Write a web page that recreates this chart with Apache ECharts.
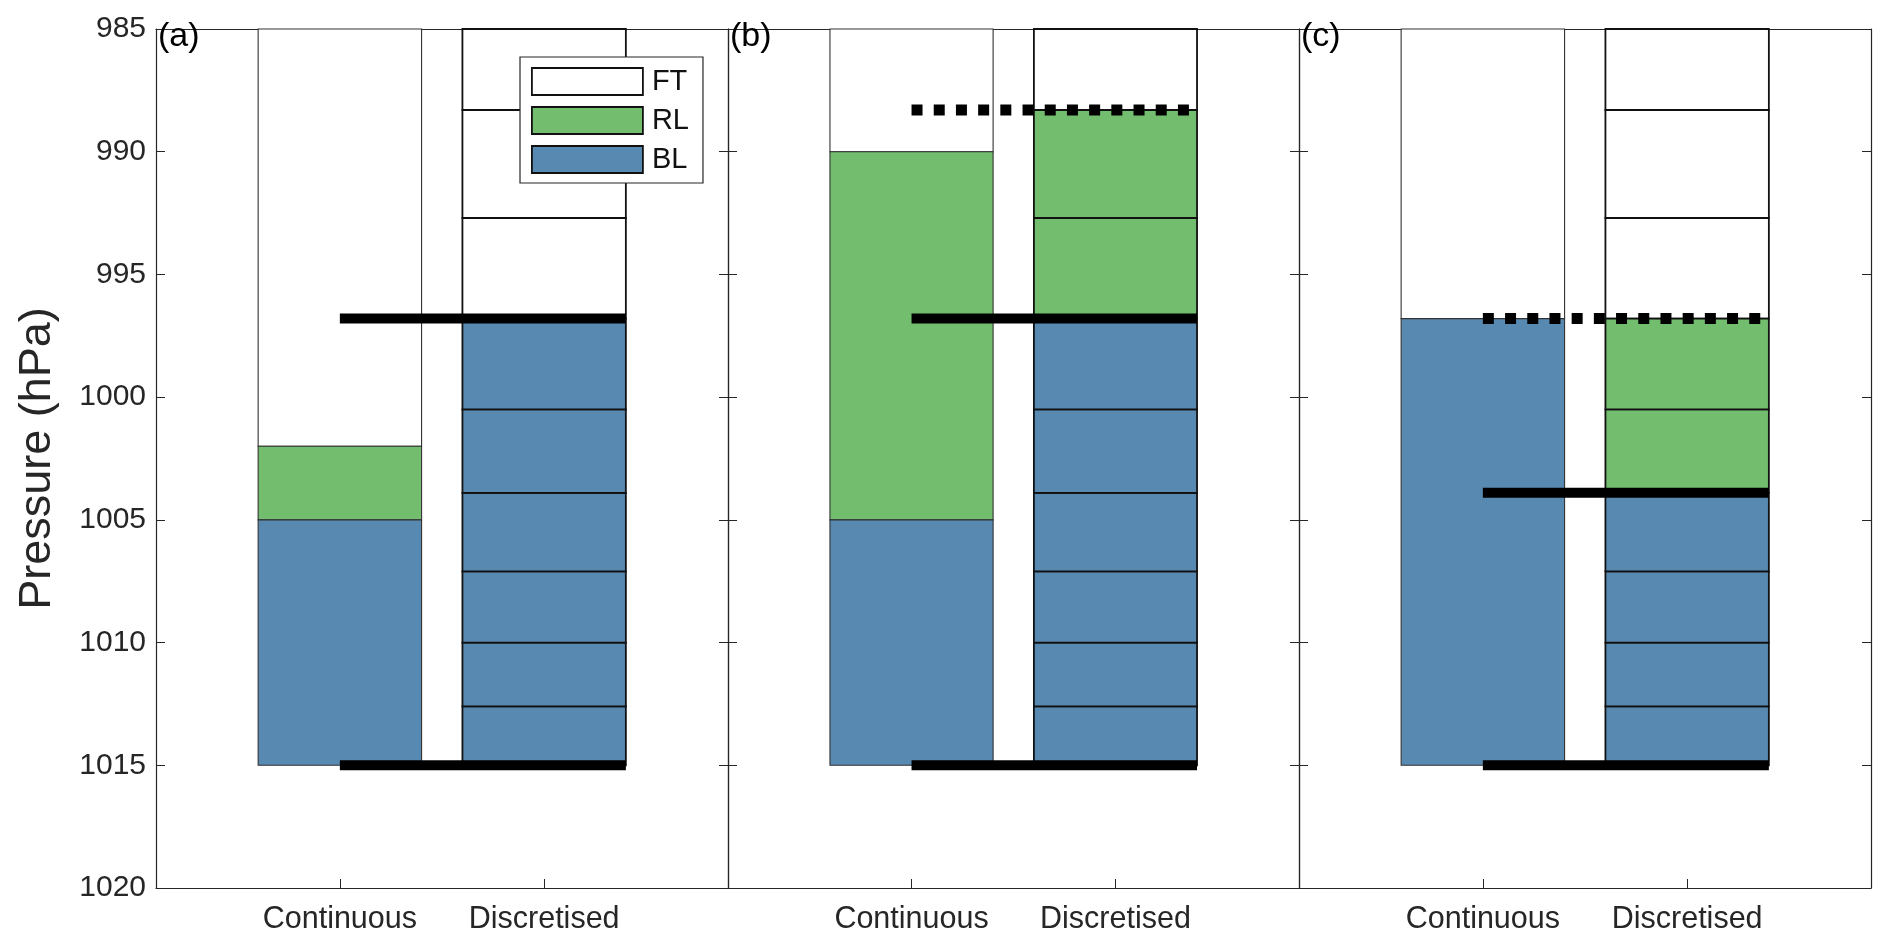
<!DOCTYPE html>
<html><head><meta charset="utf-8">
<script src="https://cdn.jsdelivr.net/npm/echarts@6/dist/echarts.min.js"></script>
<style>html,body{margin:0;padding:0;background:#fff}#c{width:1892px;height:948px}</style>
</head><body><div id="c"></div>
<script>
// ---------------- data ----------------
const categories = ['Continuous', 'Discretised'];
const categoryX = [1, 2];
const panelLabels = ['(a)', '(b)', '(c)'];
const yTicks = [985, 990, 995, 1000, 1005, 1010, 1015, 1020];
const layerNames = ['FT', 'RL', 'BL'];
// continuous bar layers per panel: [bottom pressure, top pressure]
const contBL = [[1015, 1005], [1015, 1005], [1015, 996.8]];
const contRL = [[1005, 1002], [1005, 990], null];
const contFT = [[1002, 985], [990, 985], [996.8, 985]];
// discretised model levels (hPa)
const discLevels = [1015, 1012.6, 1010, 1007.1, 1003.9, 1000.5, 996.8, 992.7, 988.3, 985];
const discBLTop = [996.8, 996.8, 1003.9];
const discRLTop = [996.8, 988.3, 996.8];
// thick reference lines per panel
const solidLevels = [[1015, 996.8], [1015, 996.8], [1015, 1003.9]];
const dottedLevels = [[], [988.3], [996.8]];

// ---------------- style ----------------
const FONT = "'Liberation Sans', Arial, Helvetica, sans-serif";
const AX = '#262626';
const layerColors = { FT: '#ffffff', RL: '#73BD6E', BL: '#5889B1' };
const BAR_W = 0.8;
const XMIN = 0.1, XMAX = 2.9, YMIN = yTicks[0], YMAX = yTicks[yTicks.length - 1];
const grids = [
  { left: 156, top: 29, width: 572, height: 859 },
  { left: 728, top: 29, width: 571, height: 859 },
  { left: 1299, top: 29, width: 572, height: 859 }
];

function renderRect(params, api) {
  const a = api.coord([api.value(0), api.value(2)]);
  const b = api.coord([api.value(1), api.value(3)]);
  const disc = api.value(4) === 1;
  return {
    type: 'rect',
    shape: { x: Math.min(a[0], b[0]), y: Math.min(a[1], b[1]),
             width: Math.abs(b[0] - a[0]), height: Math.abs(b[1] - a[1]) },
    style: { fill: api.visual('color'), stroke: disc ? '#111' : '#333', lineWidth: disc ? 1.8 : 1.1 }
  };
}

const xAxis = [], yAxis = [], series = [], graphic = [];
grids.forEach((g, i) => {
  const tickCommon = { show: true, inside: true, length: 9, lineStyle: { color: AX, width: 1 } };
  xAxis.push({
    gridIndex: i, type: 'value', min: XMIN, max: XMAX, position: 'bottom',
    axisLine: { show: true, onZero: false, lineStyle: { color: AX, width: 1.2 } },
    axisTick: Object.assign({ customValues: categoryX }, tickCommon),
    axisLabel: { show: true, customValues: categoryX, margin: 16, fontSize: 30.5, color: AX, fontFamily: FONT,
      formatter: v => categories[categoryX.indexOf(Math.round(v))] || '' },
    splitLine: { show: false }
  });
  xAxis.push({
    gridIndex: i, type: 'value', min: XMIN, max: XMAX, position: 'top',
    axisLine: { show: true, onZero: false, lineStyle: { color: AX, width: 1.2 } },
    axisTick: Object.assign({ customValues: categoryX }, tickCommon),
    axisLabel: { show: false }, splitLine: { show: false }
  });
  yAxis.push({
    gridIndex: i, type: 'value', inverse: true, min: YMIN, max: YMAX, interval: 5, position: 'left',
    axisLine: { show: true, onZero: false, lineStyle: { color: AX, width: 1.2 } },
    axisTick: tickCommon,
    axisLabel: { show: i === 0, margin: 10, fontSize: 30, color: AX, fontFamily: FONT, formatter: v => String(v) },
    splitLine: { show: false },
    name: i === 0 ? 'Pressure (hPa)' : '', nameLocation: 'middle', nameRotate: 90, nameGap: 96,
    nameTextStyle: { fontSize: 45, color: AX, fontFamily: FONT }
  });
  yAxis.push({
    gridIndex: i, type: 'value', inverse: true, min: YMIN, max: YMAX, interval: 5, position: 'right',
    axisLine: { show: true, onZero: false, lineStyle: { color: AX, width: 1.2 } },
    axisTick: tickCommon, axisLabel: { show: false }, splitLine: { show: false }
  });

  // build rect data for this panel
  const rects = { FT: [], RL: [], BL: [] };
  const cx = categoryX[0], dx = categoryX[1];
  if (contBL[i]) rects.BL.push([cx - BAR_W / 2, cx + BAR_W / 2, contBL[i][0], contBL[i][1], 0]);
  if (contRL[i]) rects.RL.push([cx - BAR_W / 2, cx + BAR_W / 2, contRL[i][0], contRL[i][1], 0]);
  if (contFT[i]) rects.FT.push([cx - BAR_W / 2, cx + BAR_W / 2, contFT[i][0], contFT[i][1], 0]);
  for (let k = 0; k < discLevels.length - 1; k++) {
    const lo = discLevels[k], hi = discLevels[k + 1];
    let layer = 'FT';
    if (hi >= discBLTop[i] - 1e-6) layer = 'BL';
    else if (hi >= discRLTop[i] - 1e-6) layer = 'RL';
    rects[layer].push([dx - BAR_W / 2, dx + BAR_W / 2, lo, hi, 1]);
  }
  layerNames.forEach(name => {
    series.push({
      type: 'custom', name: name, xAxisIndex: 2 * i, yAxisIndex: 2 * i,
      renderItem: renderRect, data: rects[name], z: 2, silent: true,
      itemStyle: { color: layerColors[name], borderColor: '#000', borderWidth: 1.5 },
      encode: { x: [0, 1], y: [2, 3] }
    });
  });
  const x0 = categoryX[0], x1 = categoryX[1] + BAR_W / 2;
  solidLevels[i].forEach(p => series.push({
    type: 'line', xAxisIndex: 2 * i, yAxisIndex: 2 * i, data: [[x0, p], [x1, p]],
    symbol: 'none', silent: true, z: 5, lineStyle: { color: '#000', width: 10, cap: 'butt' }
  }));
  dottedLevels[i].forEach(p => series.push({
    type: 'line', xAxisIndex: 2 * i, yAxisIndex: 2 * i, data: [[x0, p], [x1, p]],
    symbol: 'none', silent: true, z: 5, lineStyle: { color: '#000', width: 11, cap: 'butt', type: [11, 11.2] }
  }));
  graphic.push({
    type: 'text', left: g.left + 2, top: 20, z: 10,
    style: { text: panelLabels[i], fontSize: 34, fill: '#000', fontFamily: FONT }
  });
});

const chart = echarts.init(document.getElementById('c'), null, { renderer: 'canvas' });
chart.setOption({
  animation: false,
  backgroundColor: '#fff',
  grid: grids.map(g => Object.assign({ show: false, containLabel: false, outerBoundsMode: 'none' }, g)),
  xAxis, yAxis, series, graphic,
  legend: {
    orient: 'vertical', left: 520, top: 57, z: 8,
    padding: [10, 14, 9, 11],
    itemWidth: 111, itemHeight: 27, itemGap: 10,
    backgroundColor: '#fff', borderColor: AX, borderWidth: 1.2,
    icon: 'rect', selectedMode: false,
    textStyle: { fontSize: 29, color: '#111', fontFamily: FONT, padding: [0, 0, 0, 4] },
    data: layerNames.map(n => ({ name: n, itemStyle: { color: layerColors[n], borderColor: '#111', borderWidth: 1.8 } }))
  }
});
</script></body></html>
